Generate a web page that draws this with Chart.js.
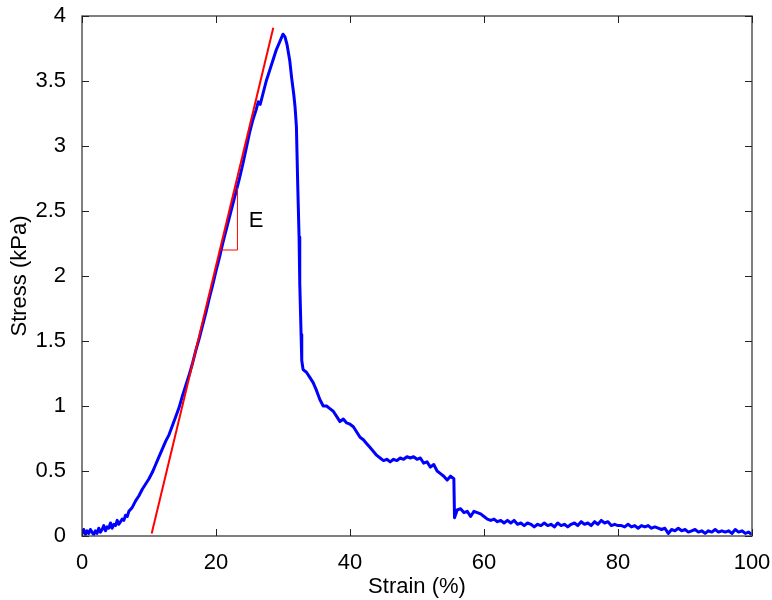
<!DOCTYPE html>
<html>
<head>
<meta charset="utf-8">
<script src="https://cdn.jsdelivr.net/npm/chart.js@4.4.0/dist/chart.umd.min.js"></script>
<style>
html,body{margin:0;padding:0;background:#fff;}
canvas{display:block;}
</style>
</head>
<body>
<canvas id="c" width="772" height="600"></canvas>
<script>
// ---- data ----
const strain = [0,0.25,0.5,0.75,1,1.25,1.5,1.75,2,2.25,2.5,2.75,3,3.25,3.5,3.75,4,4.25,4.5,4.75,5,5.25,5.5,5.75,6,6.25,6.5,6.75,7,7.5,8,8.5,9,9.5,10,10.5,11,11.5,12,12.5,13,13.5,14,14.5,15,15.5,16,16.5,17,17.5,18,18.5,19,19.5,20,20.5,21,21.5,22,22.5,23,23.5,24,24.5,25,25.5,26,26.3,26.6,27,27.5,28,28.5,29,29.5,30,30.3,30.6,31,31.3,31.6,31.8,32,32.2,32.4,32.5,32.7,32.8,33,33.5,34,34.5,35,35.5,36,36.5,37,37.5,38,38.5,39,39.5,40,40.5,41,41.5,42,42.5,43,43.5,44,44.5,45,45.5,46,46.5,47,47.5,48,48.5,49,49.5,50,50.5,51,51.5,52,52.5,53,53.5,54,54.5,55,55.5,55.6,56,56.5,57,57.5,58,58.5,59,59.5,60,60.5,61,61.5,62,62.5,63,63.5,64,64.5,65,65.5,66,66.5,67,67.5,68,68.5,69,69.5,70,70.5,71,71.5,72,72.5,73,73.5,74,74.5,75,75.5,76,76.5,77,77.5,78,78.5,79,79.5,80,80.5,81,81.5,82,82.5,83,83.5,84,84.5,85,85.5,86,86.5,87,87.5,88,88.5,89,89.5,90,90.5,91,91.5,92,92.5,93,93.5,94,94.5,95,95.5,96,96.5,97,97.5,98,98.5,99,99.5,100];
const stress = [0.02,0.05,0.01,0.04,0.02,0.05,0.03,0.01,0.04,0.02,0.06,0.03,0.05,0.08,0.04,0.07,0.06,0.10,0.06,0.09,0.08,0.12,0.09,0.11,0.13,0.12,0.16,0.15,0.19,0.22,0.27,0.31,0.36,0.40,0.44,0.49,0.55,0.61,0.67,0.73,0.78,0.85,0.92,0.99,1.08,1.16,1.24,1.33,1.43,1.52,1.62,1.72,1.83,1.93,2.04,2.14,2.25,2.35,2.45,2.55,2.65,2.75,2.86,2.98,3.10,3.20,3.28,3.34,3.32,3.40,3.50,3.58,3.66,3.74,3.80,3.86,3.84,3.78,3.66,3.52,3.40,3.30,3.15,2.70,2.30,1.95,1.55,1.35,1.28,1.26,1.22,1.18,1.12,1.05,1.00,1.00,0.98,0.96,0.92,0.88,0.90,0.87,0.86,0.84,0.80,0.76,0.74,0.71,0.68,0.65,0.62,0.60,0.58,0.59,0.57,0.59,0.58,0.60,0.59,0.61,0.60,0.61,0.59,0.60,0.56,0.57,0.53,0.55,0.50,0.48,0.46,0.43,0.46,0.44,0.14,0.20,0.21,0.18,0.19,0.15,0.19,0.18,0.17,0.15,0.13,0.12,0.13,0.11,0.12,0.10,0.12,0.10,0.12,0.09,0.10,0.08,0.10,0.09,0.07,0.09,0.08,0.10,0.08,0.09,0.07,0.10,0.08,0.09,0.07,0.09,0.10,0.08,0.11,0.09,0.10,0.08,0.11,0.09,0.12,0.10,0.11,0.08,0.09,0.08,0.08,0.07,0.09,0.07,0.08,0.06,0.08,0.07,0.08,0.06,0.07,0.06,0.05,0.06,0.02,0.05,0.04,0.06,0.04,0.05,0.03,0.04,0.05,0.03,0.04,0.02,0.04,0.03,0.05,0.03,0.04,0.03,0.04,0.02,0.05,0.03,0.04,0.02,0.03,0.01];

// fitted modulus line (red) and slope triangle
const fitStrain = [10.4, 28.55];
const fitStress = [0.02, 3.91];
const triStrain = [20.75, 23.2, 23.2];
const triStress = [2.20, 2.20, 2.68];
const slopeLabel = {text: 'E', x: 26.0, y: 2.42};

const xTicks = [0,20,40,60,80,100];
const yTicks = [0,0.5,1,1.5,2,2.5,3,3.5,4];
const xTitle = 'Strain (%)';
const yTitle = 'Stress (kPa)';

const FONT = 'Liberation Sans, Arial, Helvetica, sans-serif';
const zip = (a,b) => a.map((v,i)=>({x:v,y:b[i]}));

const boxPlugin = {
  id: 'box',
  afterDatasetsDraw(chart) {
    const {ctx, chartArea: a, scales: {x, y}} = chart;
    ctx.save();
    ctx.fillStyle = '#000';
    ctx.font = '22px ' + FONT;
    ctx.textAlign = 'center';
    ctx.textBaseline = 'middle';
    ctx.fillText(slopeLabel.text, x.getPixelForValue(slopeLabel.x), y.getPixelForValue(slopeLabel.y));
    ctx.strokeStyle = '#555';
    ctx.lineWidth = 1.5;
    ctx.strokeRect(a.left, a.top, a.right - a.left, a.bottom - a.top);
    ctx.strokeStyle = '#222';
    ctx.lineWidth = 1;
    const L = 7;
    ctx.beginPath();
    xTicks.forEach(v => {
      const px = Math.round(x.getPixelForValue(v)) + 0.5;
      ctx.moveTo(px, a.bottom); ctx.lineTo(px, a.bottom - L);
      ctx.moveTo(px, a.top); ctx.lineTo(px, a.top + L);
    });
    yTicks.forEach(v => {
      const py = Math.round(y.getPixelForValue(v)) + 0.5;
      ctx.moveTo(a.left, py); ctx.lineTo(a.left + L, py);
      ctx.moveTo(a.right, py); ctx.lineTo(a.right - L, py);
    });
    ctx.stroke();
    ctx.restore();
  }
};

new Chart(document.getElementById('c'), {
  type: 'scatter',
  data: {
    datasets: [
      {data: zip(strain, stress), showLine: true, borderColor: '#0000ff', borderWidth: 3, borderJoinStyle: 'round', pointRadius: 0, tension: 0, order: 2},
      {data: zip(fitStrain, fitStress), showLine: true, borderColor: '#ff0000', borderWidth: 2, pointRadius: 0, tension: 0, order: 1},
      {data: zip(triStrain, triStress), showLine: true, borderColor: '#ff0000', borderWidth: 1, pointRadius: 0, tension: 0, order: 1}
    ]
  },
  options: {
    responsive: false,
    animation: false,
    layout: {padding: {top: 16, right: 20, left: 0, bottom: 0}},
    plugins: {legend: {display: false}, tooltip: {enabled: false}},
    scales: {
      x: {
        type: 'linear', min: 0, max: 100,
        afterBuildTicks: s => { s.ticks = xTicks.map(v => ({value: v})); },
        afterFit: s => { s.height = 64; s.paddingLeft = 0; s.paddingRight = 0; },
        grid: {display: false},
        border: {display: false},
        ticks: {color: '#000', font: {family: FONT, size: 22}, padding: 6, maxRotation: 0, callback: v => String(v)},
        title: {display: true, text: xTitle, color: '#000', font: {family: FONT, size: 22}, padding: {top: 0, bottom: 0}}
      },
      y: {
        type: 'linear', min: 0, max: 4,
        afterBuildTicks: s => { s.ticks = yTicks.map(v => ({value: v})); },
        afterFit: s => { s.width = 82; s.paddingTop = 0; s.paddingBottom = 0; },
        grid: {display: false},
        border: {display: false},
        ticks: {color: '#000', font: {family: FONT, size: 22}, padding: 8, callback: v => String(v)},
        title: {display: true, text: yTitle, color: '#000', font: {family: FONT, size: 22}, padding: {top: 7, bottom: 0}}
      }
    }
  },
  plugins: [boxPlugin]
});
</script>
</body>
</html>
